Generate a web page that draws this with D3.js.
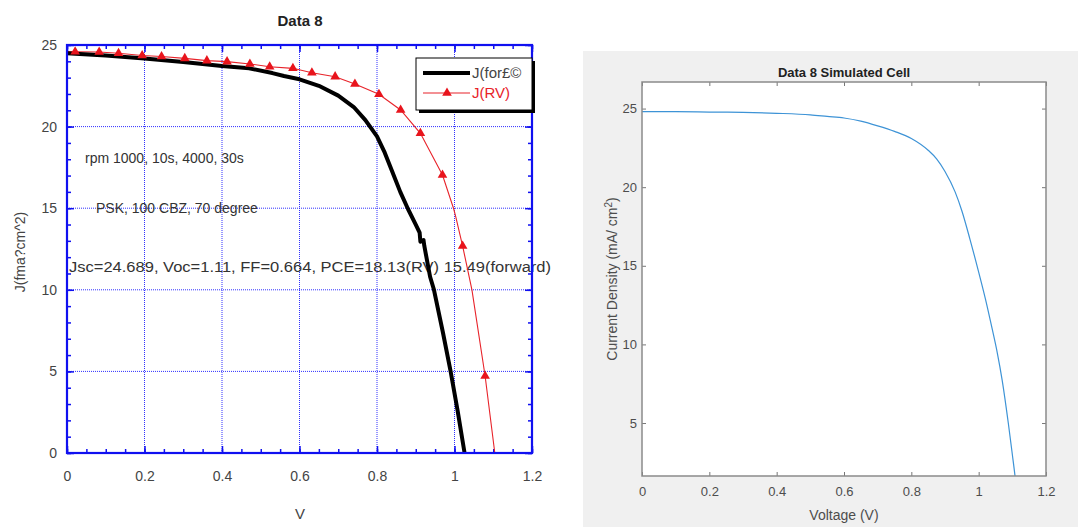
<!DOCTYPE html>
<html>
<head>
<meta charset="utf-8">
<script src="https://cdn.jsdelivr.net/npm/d3@7"></script>
<style>
  body { margin: 0; background: #fff; }
  svg { display: block; font-family: "Liberation Sans", Arial, sans-serif; }
</style>
</head>
<body>
<svg id="chart" width="1078" height="527"></svg>
<script>
// ---- data ----
// left panel: measured J-V curves
const fwdV = [0, 0.1, 0.2, 0.3, 0.4, 0.47, 0.53, 0.56, 0.6, 0.65, 0.7, 0.74, 0.77, 0.8, 0.82, 0.84, 0.86, 0.88, 0.9, 0.91, 0.912, 0.92, 0.922, 0.937, 0.947, 0.97, 0.99, 1.008, 1.026];
const fwdJ = [24.5, 24.35, 24.18, 23.96, 23.72, 23.57, 23.28, 23.1, 22.9, 22.5, 21.9, 21.2, 20.4, 19.4, 18.4, 17.2, 16.0, 14.95, 14.0, 13.5, 12.95, 13.05, 12.7, 10.8, 10.0, 7.4, 5.0, 2.6, 0];

const rvV = [0, 0.021, 0.083, 0.133, 0.194, 0.244, 0.304, 0.361, 0.413, 0.472, 0.523, 0.583, 0.632, 0.692, 0.743, 0.805, 0.861, 0.912, 0.969, 0.998, 1.003, 1.021, 1.045, 1.079, 1.104];
const rvJ = [24.6, 24.59, 24.57, 24.49, 24.36, 24.3, 24.18, 24.04, 23.98, 23.84, 23.67, 23.57, 23.3, 23.06, 22.61, 21.98, 21.02, 19.59, 17.03, 14.95, 14.5, 12.68, 10.0, 4.72, 0];
// which RV points carry a triangle marker
const rvMarkers = [1, 2, 3, 4, 5, 6, 7, 8, 9, 10, 11, 12, 13, 14, 15, 16, 17, 18, 21, 23];

const leftXTicks = [0, 0.2, 0.4, 0.6, 0.8, 1, 1.2];
const leftYTicks = [0, 5, 10, 15, 20, 25];
const leftXMinor = d3.range(0, 1.2001, 0.05);
const leftYMinor = d3.range(0, 25.001, 1);

const notes = [
  "rpm 1000, 10s, 4000, 30s",
  "PSK, 100 CBZ, 70 degree",
  "Jsc=24.689, Voc=1.11, FF=0.664, PCE=18.13(RV) 15.49(forward)"
];

// right panel: simulated cell
const simV = [0, 0.1, 0.2, 0.3, 0.4, 0.5, 0.55, 0.6, 0.65, 0.7, 0.75, 0.8, 0.85, 0.875, 0.9, 0.93, 0.95, 0.974, 1.0, 1.02, 1.04, 1.055, 1.07, 1.088, 1.1, 1.108, 1.116];
const simJ = [24.8, 24.8, 24.78, 24.76, 24.7, 24.6, 24.5, 24.4, 24.2, 23.9, 23.55, 23.1, 22.35, 21.8, 21.0, 19.7, 18.5, 16.7, 14.6, 12.9, 11.0, 9.5, 7.7, 5.0, 3.0, 1.63, 0];

const rightXTicks = [0, 0.2, 0.4, 0.6, 0.8, 1, 1.2];
const rightYTicks = [5, 10, 15, 20, 25];

const fmt = d3.format("~g");
const svg = d3.select("#chart");

// ================= left panel =================
const xL = d3.scaleLinear().domain([0, 1.2]).range([67, 532]);
const yL = d3.scaleLinear().domain([0, 25]).range([453, 45]);
const blue = "#1010f0";

const left = svg.append("g");

// dotted grid
left.selectAll(".gx").data(leftXTicks.slice(1, -1)).enter().append("line")
  .attr("x1", d => xL(d)).attr("x2", d => xL(d))
  .attr("y1", yL(0)).attr("y2", yL(25))
  .attr("stroke", "#3030ff").attr("stroke-width", 1).attr("stroke-dasharray", "1,1");
left.selectAll(".gy").data(leftYTicks.slice(1, -1)).enter().append("line")
  .attr("x1", xL(0)).attr("x2", xL(1.2))
  .attr("y1", d => yL(d)).attr("y2", d => yL(d))
  .attr("stroke", "#3030ff").attr("stroke-width", 1).attr("stroke-dasharray", "1,1");

// ticks on all four sides, pointing inwards
function tickAxis(axis, transform, values, size, labels, pad) {
  const a = axis.tickValues(values).tickSizeInner(-size).tickSizeOuter(0).tickPadding(pad || 0);
  a.tickFormat(labels ? fmt : "");
  const gg = left.append("g").attr("transform", transform).call(a);
  gg.select(".domain").remove();
  gg.selectAll("line").attr("stroke", blue).attr("stroke-width", 1.5);
  gg.selectAll("text").attr("fill", "#444").style("font-size", "14px")
    .style("font-family", "'Liberation Sans', Arial, sans-serif");
  return gg;
}
tickAxis(d3.axisBottom(xL), `translate(0,${yL(0)})`, leftXMinor, 4);
tickAxis(d3.axisBottom(xL), `translate(0,${yL(0)})`, leftXTicks, 7, true, 18);
tickAxis(d3.axisTop(xL), `translate(0,${yL(25)})`, leftXMinor, 4);
tickAxis(d3.axisTop(xL), `translate(0,${yL(25)})`, leftXTicks, 7);
tickAxis(d3.axisLeft(yL), `translate(${xL(0)},0)`, leftYMinor, 4);
tickAxis(d3.axisLeft(yL), `translate(${xL(0)},0)`, leftYTicks, 7, true, 10);
tickAxis(d3.axisRight(yL), `translate(${xL(1.2)},0)`, leftYMinor, 4);
tickAxis(d3.axisRight(yL), `translate(${xL(1.2)},0)`, leftYTicks, 7);

// annotations
left.append("text").attr("x", 85).attr("y", 163).attr("fill", "#333")
  .style("font-size", "14px").text(notes[0]);
left.append("text").attr("x", 96).attr("y", 213).attr("fill", "#333")
  .style("font-size", "14px").text(notes[1]);
left.append("text").attr("x", 69).attr("y", 272).attr("fill", "#333")
  .style("font-size", "14px").attr("textLength", 482).attr("lengthAdjust", "spacingAndGlyphs")
  .text(notes[2]);

// curves
const fwdData = fwdV.map((v, i) => [v, fwdJ[i]]);
const rvData = rvV.map((v, i) => [v, rvJ[i]]);
const lineL = d3.line().x(d => xL(d[0])).y(d => yL(d[1]));

left.append("path").datum(rvData).attr("d", lineL)
  .attr("fill", "none").attr("stroke", "#e8232a").attr("stroke-width", 1.1);
left.append("path").datum(fwdData).attr("d", lineL)
  .attr("fill", "none").attr("stroke", "#000").attr("stroke-width", 4)
  .attr("stroke-linejoin", "round");

const tri = d3.symbol().type(d3.symbolTriangle).size(40);
left.selectAll(".mk").data(rvMarkers.map(i => rvData[i])).enter().append("path")
  .attr("d", tri)
  .attr("transform", d => `translate(${xL(d[0])},${yL(d[1])})`)
  .attr("fill", "#e8141c");

// frame
left.append("rect").attr("x", xL(0)).attr("y", yL(25))
  .attr("width", xL(1.2) - xL(0)).attr("height", yL(0) - yL(25))
  .attr("fill", "none").attr("stroke", blue).attr("stroke-width", 2.2);

// legend
const lg = left.append("g").attr("transform", "translate(416,58)");
lg.append("rect").attr("x", 3).attr("y", 3).attr("width", 116).attr("height", 52).attr("fill", "#000");
lg.append("rect").attr("x", 0).attr("y", 0).attr("width", 116).attr("height", 52)
  .attr("fill", "#fff").attr("stroke", "#000").attr("stroke-width", 1);
lg.append("line").attr("x1", 7).attr("x2", 54).attr("y1", 15).attr("y2", 15)
  .attr("stroke", "#000").attr("stroke-width", 4);
lg.append("line").attr("x1", 7).attr("x2", 54).attr("y1", 35).attr("y2", 35)
  .attr("stroke", "#e8232a").attr("stroke-width", 1.1);
lg.append("path").attr("d", tri).attr("transform", "translate(31,35)").attr("fill", "#e8141c");
lg.append("text").attr("x", 56).attr("y", 20).attr("fill", "#444").style("font-size", "15px").text("J(for£©");
lg.append("text").attr("x", 56).attr("y", 40).attr("fill", "#e8232a").style("font-size", "15px").text("J(RV)");

// titles
left.append("text").attr("x", 300).attr("y", 26).attr("text-anchor", "middle")
  .style("font-size", "15px").style("font-weight", "bold").attr("fill", "#222").text("Data 8");
left.append("text").attr("x", 300).attr("y", 519).attr("text-anchor", "middle")
  .style("font-size", "15px").attr("fill", "#444").text("V");
left.append("text").attr("transform", "translate(25,252) rotate(-90)").attr("text-anchor", "middle")
  .style("font-size", "14px").attr("fill", "#444").text("J(fma?cm^2)");

// ================= right panel =================
const xR = d3.scaleLinear().domain([0, 1.2]).range([642, 1046]);
const yR = d3.scaleLinear().domain([1.63, 26.69]).range([476, 82]);
const right = svg.append("g");

right.append("rect").attr("x", 583).attr("y", 51).attr("width", 495).attr("height", 476).attr("fill", "#f0f0f0");
right.append("rect").attr("x", xR(0)).attr("y", yR(26.69))
  .attr("width", xR(1.2) - xR(0)).attr("height", yR(1.63) - yR(26.69)).attr("fill", "#fff");

right.append("clipPath").attr("id", "clipR").append("rect")
  .attr("x", xR(0)).attr("y", yR(26.69))
  .attr("width", xR(1.2) - xR(0)).attr("height", yR(1.63) - yR(26.69));

function rAxis(axis, transform, values, labels, pad) {
  const a = axis.tickValues(values).tickSizeInner(-4).tickSizeOuter(0).tickPadding(pad || 0);
  a.tickFormat(labels ? fmt : "");
  const gg = right.append("g").attr("transform", transform).call(a);
  gg.select(".domain").remove();
  gg.selectAll("line").attr("stroke", "#777").attr("stroke-width", 1);
  gg.selectAll("text").attr("fill", "#4d4d4d").style("font-size", "13px")
    .style("font-family", "'Liberation Sans', Arial, sans-serif");
}
rAxis(d3.axisBottom(xR), `translate(0,${yR(1.63)})`, rightXTicks, true, 11);
rAxis(d3.axisTop(xR), `translate(0,${yR(26.69)})`, rightXTicks);
rAxis(d3.axisLeft(yR), `translate(${xR(0)},0)`, rightYTicks, true, 5);
rAxis(d3.axisRight(yR), `translate(${xR(1.2)},0)`, rightYTicks);

const simData = simV.map((v, i) => [v, simJ[i]]);
right.append("path").datum(simData)
  .attr("d", d3.line().x(d => xR(d[0])).y(d => yR(d[1])).curve(d3.curveMonotoneX))
  .attr("clip-path", "url(#clipR)")
  .attr("fill", "none").attr("stroke", "#3d93d6").attr("stroke-width", 1.2);

right.append("rect").attr("x", xR(0)).attr("y", yR(26.69))
  .attr("width", xR(1.2) - xR(0)).attr("height", yR(1.63) - yR(26.69))
  .attr("fill", "none").attr("stroke", "#8a8a8a").attr("stroke-width", 1.5);

right.append("text").attr("x", 844).attr("y", 77).attr("text-anchor", "middle")
  .style("font-size", "13px").style("font-weight", "bold").attr("fill", "#222")
  .text("Data 8 Simulated Cell");
right.append("text").attr("x", 844).attr("y", 520).attr("text-anchor", "middle")
  .style("font-size", "14px").attr("fill", "#4d4d4d").text("Voltage (V)");
const yl = right.append("text").attr("transform", "translate(617,279) rotate(-90)")
  .attr("text-anchor", "middle").style("font-size", "14px").attr("fill", "#4d4d4d");
yl.append("tspan").text("Current Density (mA/ cm");
yl.append("tspan").attr("dy", -5).style("font-size", "10px").text("2");
yl.append("tspan").attr("dy", 5).text(")");
</script>
</body>
</html>
